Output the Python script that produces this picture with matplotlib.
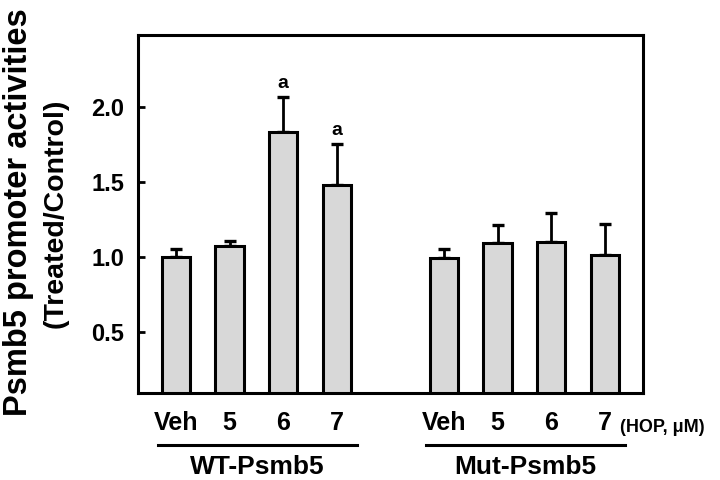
import matplotlib
matplotlib.use('Agg')
import matplotlib.pyplot as plt
import numpy as np

plt.rcParams['font.family'] = ['Liberation Sans', 'DejaVu Sans']

doses = ['Veh', '5', '6', '7']
groups = ['WT-Psmb5', 'Mut-Psmb5']

wt_mean = [1.00, 1.07, 1.83, 1.48]
wt_err = [0.055, 0.035, 0.235, 0.27]
mut_mean = [0.99, 1.09, 1.10, 1.01]
mut_err = [0.06, 0.12, 0.19, 0.21]

# significance marks, one per bar
wt_sig = ['', '', 'a', 'a']
mut_sig = ['', '', '', '']


def main():
    fig = plt.figure(figsize=(7.2, 4.8), dpi=100)
    ax = fig.add_axes([0.1917, 0.18125, 0.7014, 0.7458])

    x_wt = np.arange(len(doses))
    x_mut = x_wt + len(doses) + 1
    x_all = np.concatenate([x_wt, x_mut])
    means = wt_mean + mut_mean
    errs = wt_err + mut_err
    sigs = wt_sig + mut_sig

    ax.bar(x_all, means, width=0.53, color='#d8d8d8', edgecolor='black',
           linewidth=2.2, zorder=2)
    ax.errorbar(x_all, means, yerr=[np.zeros(len(errs)), errs], fmt='none',
                ecolor='black', elinewidth=2.0, capsize=4.5, capthick=2.4,
                zorder=1)

    for xi, m, e, s in zip(x_all, means, errs, sigs):
        if s:
            ax.annotate(s, (xi, m + e), xytext=(0, 4), textcoords='offset points',
                        ha='center', va='bottom', fontsize=14, fontweight='bold')

    ax.set_xlim(-0.709, 8.713)
    ax.set_ylim(0.093, 2.48)
    ax.set_yticks([0.5, 1.0, 1.5, 2.0])
    ax.set_yticklabels(['0.5', '1.0', '1.5', '2.0'])
    ax.set_xticks(x_all)
    ax.set_xticklabels(doses + doses)

    for lab in ax.get_yticklabels():
        lab.set_fontweight('bold')
    for lab in ax.get_xticklabels():
        lab.set_fontweight('bold')

    ax.tick_params(axis='y', direction='in', length=5, width=2, labelsize=17, pad=10)
    ax.tick_params(axis='x', length=0, labelsize=18, pad=13)
    for sp in ax.spines.values():
        sp.set_linewidth(2.2)

    # group underlines and names
    trans = ax.get_xaxis_transform()
    for xs, name in zip([x_wt, x_mut], groups):
        x0 = xs[0] - 0.34
        x1 = xs[-1] + 0.38
        ax.plot([x0, x1], [-0.145, -0.145], color='black', lw=2.2,
                transform=trans, clip_on=False)
        ax.text((x0 + x1) / 2, -0.207, name, transform=trans, ha='center',
                va='center', fontsize=19, fontweight='bold')

    ax.text(x_mut[-1] + 0.28, -0.097, '(HOP, \u03bcM)', transform=trans,
            ha='left', va='center', fontsize=13, fontweight='bold')

    fig.text(0.026, 0.558, 'Psmb5 promoter activities', rotation=90,
             ha='center', va='center', fontsize=23.5, fontweight='bold')
    fig.text(0.077, 0.556, '(Treated/Control)', rotation=90,
             ha='center', va='center', fontsize=20.5, fontweight='bold')

    plt.savefig('out.png', dpi=100)
    plt.close()


if __name__ == "__main__":
    main()
